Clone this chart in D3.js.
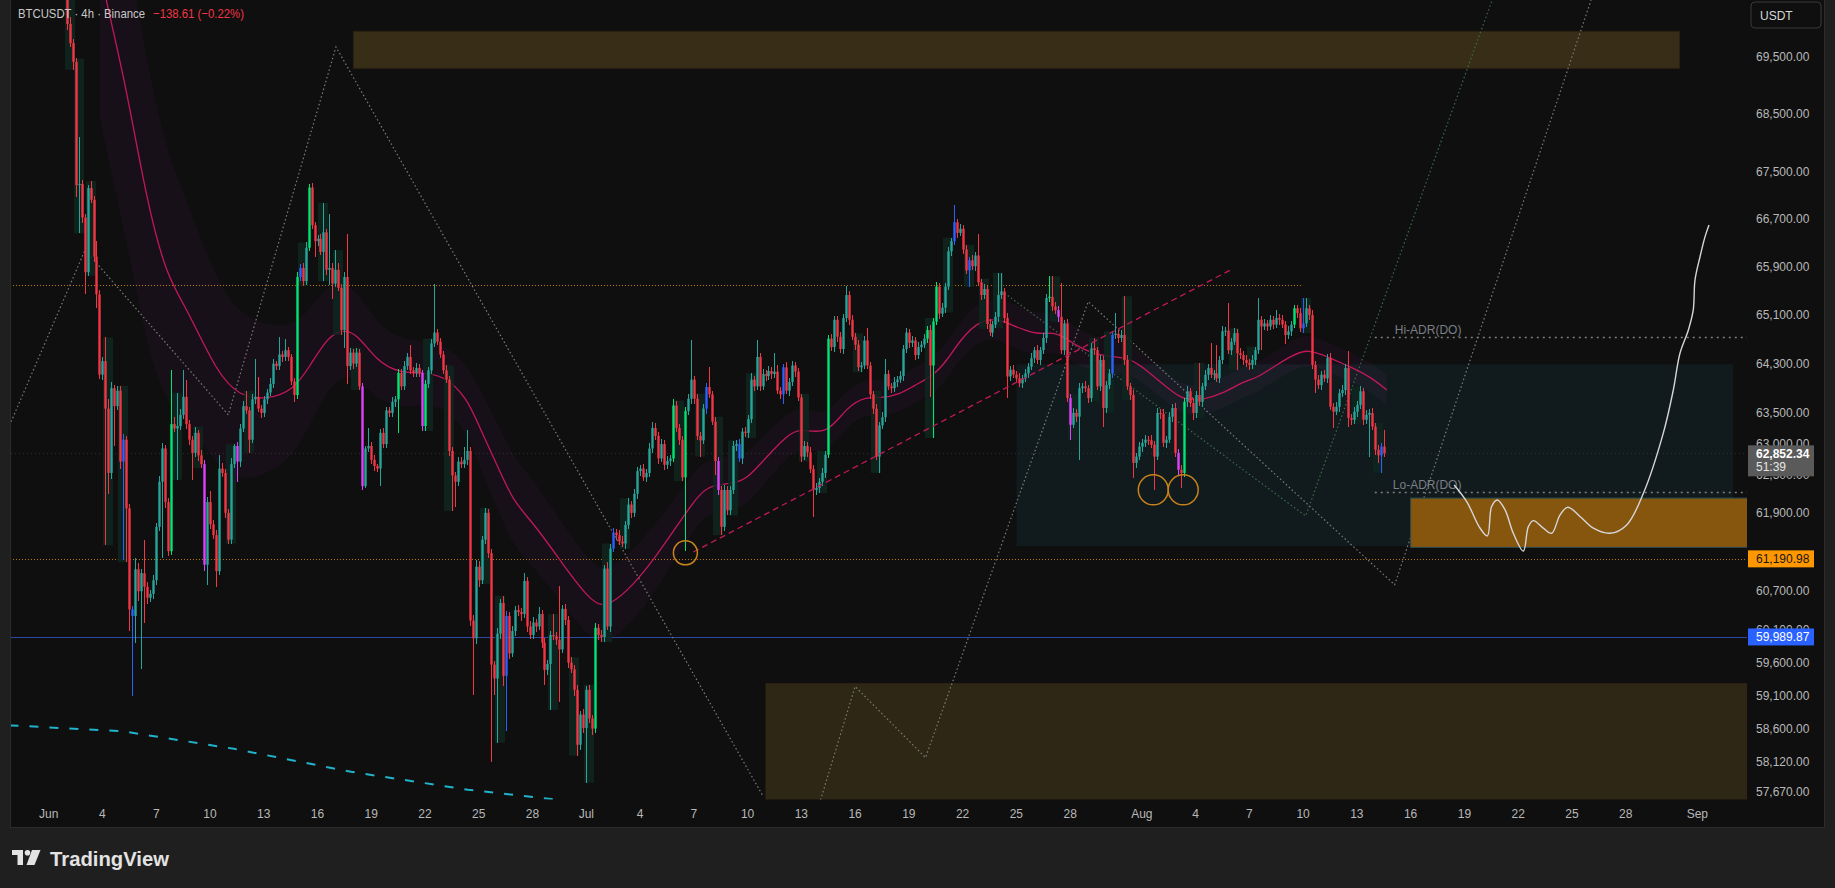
<!DOCTYPE html>
<html>
<head>
<meta charset="utf-8">
<script src="https://cdn.jsdelivr.net/npm/d3@7"></script>
<style>
  html, body { margin: 0; padding: 0; background: #1f1f1f; }
  svg { display: block; font-family: "Liberation Sans", Arial, sans-serif; }
</style>
</head>
<body>
<svg id="chart" width="1835" height="888"></svg>
<script>
// ===== data =====

// first 4h bar shown, and the open of that bar
const barStart = '2024-06-02T00:00:00Z';
const firstOpen = 71200;

// 4h closes, one row per day (Jun 2 .. Aug 14)
const closes = [
  70090, 69750, 69420, 67280, 67300, 66730,
  65810, 67230, 67030, 66070, 65440, 64120,
  64340, 63570, 62540, 63900, 63610, 63860,
  62720, 63070, 61980, 60410, 60310, 61030,
  60690, 60970, 60760, 60590, 60650, 60860,
  61690, 62400, 62930, 62080, 61310, 63320,
  63250, 63290, 63470, 63760, 63320, 63070,
  62860, 63180, 62820, 62680, 61100, 62080,
  61730, 61560, 61000, 62610, 62540, 61910,
  61490, 62680, 62970, 62720, 63250, 63610,
  63540, 63070, 63720, 63760, 63570, 63500,
  63720, 63830, 63970, 64300, 64260, 64450,
  64410, 64520, 64410, 64010, 63790, 65730,
  65880, 65660, 66220, 67240, 66600, 66330,
  66370, 66150, 66480, 65850, 65880, 65620,
  65850, 65550, 64850, 65730, 64260, 64480,
  64300, 64480, 63930, 62330, 62930, 62970,
  62750, 62650, 62610, 63180, 63000, 63540,
  63500, 63680, 63720, 64150, 63930, 64260,
  64410, 64190, 64150, 64230, 64150, 63290,
  63970, 64190, 64630, 64810, 64660, 64450,
  64190, 64040, 62890, 62500, 62400, 62720,
  62680, 62750, 62890, 60240, 59970, 61070,
  60860, 61490, 61910, 61280, 59570, 59360,
  60040, 60510, 59400, 60310, 59740, 60080,
  60400, 60370, 60340, 60850, 60150, 60020,
  60210, 60150, 60340, 59900, 59490, 59580,
  60020, 60000, 59950, 59800, 60420, 60250,
  59600, 59500, 59190, 58370, 58820, 58620,
  59190, 58760, 58610, 60130, 60020, 59990,
  61040, 60150, 61350, 61600, 61560, 61460,
  61430, 61720, 62040, 61910, 62210, 62570,
  62610, 62470, 62540, 62930, 63260, 63130,
  62770, 63000, 62670, 62730, 62770, 63620,
  63260, 63070, 62470, 63530, 63730, 64040,
  63730, 63130, 63060, 63570, 63920, 63800,
  63360, 62730, 62270, 61690, 62270, 61950,
  62270, 62970, 63000, 62770, 63200, 63180,
  63400, 64040, 63930, 64410, 63930, 64130,
  64100, 64180, 64130, 64170, 63860, 63800,
  64240, 63860, 64000, 64270, 64170, 63750,
  62800, 62970, 62870, 62600, 62270, 62300,
  62400, 62540, 62830, 64710, 64570, 65020,
  64740, 64540, 65050, 65430, 65020, 64740,
  64610, 64240, 64270, 64680, 64270, 63800,
  63570, 62800, 63300, 63430, 64130, 63930,
  63900, 64000, 64040, 64100, 64540, 64810,
  64640, 64680, 64440, 64570, 64610, 64710,
  64850, 64270, 64990, 65570, 65120, 65220,
  65570, 66160, 66330, 66650, 66470, 66540,
  66190, 65840, 66010, 65910, 66090, 65640,
  65430, 65530, 64950, 64810, 64940, 65070,
  65430, 65490, 65050, 64090, 64200, 64120,
  64060, 63980, 64060, 64140, 64250, 64390,
  64520, 64360, 64520, 64720, 65380, 65400,
  65240, 65180, 65070, 64520, 64960, 63740,
  63310, 63500, 63440, 63900, 63930, 63900,
  63740, 64550, 64520, 63930, 64360, 63580,
  63950, 64140, 64770, 64790, 64720, 64770,
  64360, 63930, 63790, 62700, 62800, 62960,
  63020, 63070, 63060, 62990, 62800, 63500,
  63490, 63020, 63070, 63440, 63580, 62860,
  62590, 62540, 63680, 63850, 63660, 63500,
  63790, 63680, 63930, 64120, 64230, 64120,
  64140, 64060, 64360, 64830, 64840, 64520,
  64660, 64800, 64470, 64440, 64360, 64310,
  64280, 64360, 64520, 65020, 64910, 64960,
  64910, 65020, 64940, 65050, 65020, 64940,
  64770, 64830, 64940, 65210, 65130, 64880,
  64960, 65210, 65100, 64280, 64040, 63950,
  64120, 64060, 64390, 63600, 63520, 63600,
  63820, 63870, 64230, 63420, 63390, 63520,
  63630, 63850, 63390, 63470, 63500, 63280,
  62910, 62820, 62960, 62852.34
];

// wick above the body of each bar (USD)
const upperWicks = [
  600, 120, 80, 60, 810, 60,
  60, 50, 120, 60, 260, 80,
  70, 390, 150, 100, 60, 80,
  80, 90, 60, 70, 60, 180,
  100, 60, 520, 80, 60, 80,
  60, 90, 80, 60, 70, 870,
  120, 540, 90, 430, 280, 60,
  60, 100, 50, 80, 60, 80,
  180, 60, 80, 210, 90, 60,
  60, 90, 30, 60, 70, 90,
  250, 60, 80, 610, 320, 60,
  60, 50, 90, 70, 40, 290,
  60, 180, 60, 50, 60, 90,
  60, 80, 90, 60, 80, 60,
  60, 80, 500, 60, 910, 80,
  330, 110, 60, 90, 720, 80,
  60, 80, 60, 60, 40, 280,
  60, 80, 40, 60, 80, 60,
  50, 80, 60, 70, 60, 80,
  60, 190, 60, 80, 60, 50,
  60, 60, 80, 810, 60, 60,
  60, 80, 60, 70, 60, 80,
  80, 200, 330, 60, 80, 100,
  80, 60, 80, 60, 60, 60,
  80, 60, 110, 80, 60, 80,
  60, 80, 60, 120, 60, 80,
  80, 60, 100, 60, 80, 60,
  60, 320, 60, 820, 60, 80,
  60, 80, 60, 80, 60, 80,
  60, 80, 60, 80, 60, 80,
  60, 100, 80, 80, 60, 80,
  80, 60, 100, 60, 80, 60,
  60, 80, 60, 80, 90, 80,
  60, 80, 60, 80, 60, 100,
  80, 60, 60, 60, 80, 640,
  60, 80, 60, 80, 60, 320,
  60, 80, 60, 60, 80, 60,
  60, 80, 60, 80, 60, 80,
  60, 100, 60, 270, 60, 80,
  60, 80, 60, 300, 100, 60,
  60, 80, 60, 80, 60, 60,
  60, 80, 60, 80, 60, 80,
  60, 80, 60, 60, 80, 60,
  60, 80, 60, 150, 60, 80,
  60, 80, 60, 80, 210, 60,
  60, 80, 60, 80, 240, 60,
  60, 80, 60, 80, 60, 80,
  60, 80, 60, 80, 60, 80,
  60, 80, 60, 80, 60, 80,
  60, 80, 60, 290, 60, 80,
  60, 80, 60, 80, 60, 360,
  60, 80, 60, 80, 60, 80,
  360, 310, 60, 80, 60, 80,
  60, 80, 60, 80, 60, 80,
  60, 80, 60, 80, 60, 340,
  340, 80, 60, 560, 60, 80,
  60, 80, 60, 80, 60, 80,
  60, 80, 170, 60, 80, 60,
  60, 80, 60, 350, 60, 80,
  640, 80, 60, 80, 60, 80,
  60, 80, 60, 80, 60, 80,
  60, 80, 60, 80, 60, 80,
  60, 80, 60, 80, 60, 80,
  60, 520, 60, 80, 60, 400,
  60, 460, 60, 80, 60, 460,
  60, 80, 60, 80, 60, 80,
  60, 80, 60, 360, 60, 80,
  60, 80, 60, 130, 60, 80,
  60, 80, 60, 50, 60, 80,
  420, 170, 60, 80, 60, 80,
  60, 80, 60, 80, 60, 80,
  60, 80, 60, 270, 60, 80,
  60, 80, 60, 80, 60, 80,
  60, 80, 60, 270
];

// wick below the body of each bar (USD)
const lowerWicks = [
  100, 60, 140, 200, 820, 100,
  370, 60, 60, 90, 225, 70,
  80, 2170, 340, 90, 640, 70,
  120, 1540, 840, 335, 1210, 410,
  150, 1180, 550, 90, 60, 80,
  80, 60, 1190, 100, 80, 60,
  60, 820, 60, 60, 80, 80,
  430, 60, 90, 60, 100, 310,
  80, 60, 240, 60, 70, 80,
  60, 60, 60, 320, 80, 60,
  60, 210, 60, 80, 60, 80,
  60, 80, 60, 60, 60, 60,
  80, 60, 60, 60, 110, 60,
  60, 80, 60, 60, 60, 260,
  80, 60, 490, 80, 260, 260,
  60, 60, 80, 290, 290, 60,
  80, 60, 60, 60, 30, 60,
  60, 80, 60, 280, 60, 60,
  60, 60, 80, 540, 60, 60,
  60, 60, 60, 60, 60, 80,
  80, 60, 60, 60, 60, 60,
  60, 60, 80, 560, 400, 60,
  60, 60, 80, 80, 860, 80,
  100, 60, 60, 80, 1450, 250,
  960, 80, 150, 830, 80, 60,
  80, 60, 100, 60, 80, 60,
  60, 80, 60, 80, 220, 80,
  690, 60, 80, 800, 60, 80,
  80, 60, 100, 160, 80, 70,
  810, 60, 100, 60, 80, 80,
  80, 60, 80, 60, 80, 60,
  60, 80, 60, 80, 60, 80,
  80, 60, 80, 60, 80, 60,
  80, 60, 80, 60, 80, 60,
  60, 80, 60, 1150, 60, 80,
  80, 60, 260, 60, 80, 60,
  60, 230, 80, 130, 60, 80,
  80, 60, 80, 60, 80, 60,
  80, 60, 80, 60, 80, 60,
  80, 60, 80, 60, 60, 80,
  150, 60, 80, 60, 80, 60,
  80, 60, 80, 60, 420, 80,
  80, 60, 80, 60, 60, 80,
  80, 60, 80, 60, 80, 60,
  80, 60, 80, 60, 60, 80,
  80, 60, 260, 60, 80, 60,
  80, 60, 80, 60, 80, 60,
  80, 60, 80, 60, 80, 60,
  80, 510, 1170, 60, 80, 60,
  80, 60, 80, 60, 80, 60,
  80, 60, 270, 60, 80, 60,
  80, 60, 80, 60, 80, 60,
  80, 60, 80, 350, 80, 60,
  80, 60, 80, 60, 80, 60,
  80, 60, 80, 60, 80, 60,
  80, 60, 80, 60, 80, 60,
  240, 60, 80, 690, 80, 60,
  80, 60, 80, 60, 80, 300,
  80, 60, 80, 60, 80, 60,
  80, 60, 80, 240, 80, 60,
  80, 60, 80, 60, 530, 60,
  80, 60, 80, 60, 80, 60,
  80, 240, 60, 80, 60, 110,
  80, 60, 80, 60, 80, 60,
  80, 60, 80, 60, 80, 60,
  80, 60, 270, 60, 80, 60,
  80, 60, 80, 60, 385, 60,
  80, 60, 80, 60, 80, 60,
  150, 60, 80, 60, 80, 60,
  80, 60, 80, 60, 215, 60,
  80, 60, 80, 60, 260, 60,
  80, 60, 80, 140, 80, 60,
  80, 60, 80, 60, 670, 60,
  80, 120, 280, 60
];

// bars the indicator paints differently (bar number from barStart)
const brightBars = [35, 77, 81, 111, 120, 177, 203, 207, 255, 288, 290, 291, 329, 374, 411];
const blueBars = [19, 22, 78, 147, 183, 214, 225, 240, 297, 302, 350, 414, 440];
const magentaBars = [46, 57, 99, 119, 218, 332, 336, 372];
// bars with the dark green highlight column behind them
const shadeBars = [1, 4, 8, 14, 19, 37, 44, 55, 61, 79, 86, 91, 97, 121, 128, 140, 145, 163, 170, 175,
  181, 187, 205, 212, 218, 223, 229, 247, 253, 265, 271, 289, 295, 302, 307, 312, 331, 337, 344, 349,
  355, 379, 391, 397, 415, 432, 439];

// moving average + its band (days after Jun 1, price, half width)
const maDays = [2.86, 3.20, 4.35, 5.47, 6.58, 7.70, 9.38, 10.68, 12.17, 13.65, 14.58, 15.51, 16.26, 17.19,
  18.30, 19.60, 20.72, 22.02, 23.33, 24.07, 25.00, 25.93, 27.04, 28.53, 30.39, 31.32, 32.62, 33.74, 34.86,
  35.97, 36.72, 38.20, 38.95, 40.07, 41.18, 41.93, 43.42, 44.53, 45.65, 46.39, 47.51, 48.25, 49.36, 50.11,
  50.85, 51.97, 53.09, 53.83, 54.39, 55.32, 56.25, 57.37, 58.67, 60.34, 61.45, 62.57, 63.31, 64.43, 65.55,
  66.66, 67.41, 68.53, 69.27, 70.29, 71.50, 72.62, 73.73, 74.67];
const maValues = [71060, 70518, 68943, 67011, 65734, 65218, 64150, 63760, 63717, 63863, 64263, 64705, 64853,
  64810, 64335, 64150, 64150, 64116, 63755, 63250, 62681, 62083, 61754, 61171, 60467, 60467, 60785, 61171,
  61622, 62077, 62340, 62373, 62438, 62800, 63132, 63264, 63132, 63600, 63768, 63733, 63802, 63936, 64104,
  64343, 64682, 65025, 65025, 64922, 64858, 64775, 64830, 64580, 64415, 64415, 64144, 63873, 63711, 63711,
  63818, 64008, 64063, 64280, 64415, 64552, 64389, 64252, 64089, 63873];
const maBand = [2600, 2600, 2600, 2400, 2100, 1800, 1500, 1350, 1200, 1050, 950, 850, 780, 700, 620, 560,
  520, 500, 540, 620, 680, 700, 680, 620, 580, 560, 540, 520, 480, 450, 430, 420, 400, 380, 350, 330, 310,
  300, 280, 280, 280, 280, 290, 300, 300, 320, 340, 360, 360, 340, 320, 300, 280, 260, 250, 240, 240, 240,
  250, 250, 240, 240, 250, 250, 240, 240, 240, 240];

// drawn zones: [from, to, top price, bottom price]
const supplyZone = ['2024-06-18', '2024-08-31', 69960, 69306];
const demandZone = ['2024-07-11', '2024-09-06', 59290, 57400];
const rangeBox = ['2024-07-25', '2024-09-03', 64290, 61390];
const targetZone = ['2024-08-16', '2024-09-06', 62142, 61370];

// horizontal levels
const resistanceLevel = 65600;      // dotted, ends Aug 10
const supportLevel = 61190.98;
const blueLevel = 59989.87;
const lastPrice = 62852.34;
const countdown = '51:39';
const hiAdr = 64733;
const loAdr = 62245;
const adrStartDay = 74;

// zigzag / trend drawings (days after Jun 1, price)
const zigA_days = [-2.10, 2.03, 10.02, 16.03, 39.87];
const zigA_prices = [63357, 66183, 63470, 69683, 57611];
const zigB_days = [43.07, 45.00, 48.93, 58.01, 75.11, 86.07];
const zigB_prices = [57557, 59240, 58180, 65320, 60790, 70518];
const zigC_days = [53.16, 70.14, 80.55];
const zigC_prices = [65500, 61861, 70518];
const cyanDays = [-2.19, 4.15, 10.34, 16.87, 23.40, 28.64];
const cyanPrices = [58659, 58570, 58310, 57971, 57707, 57554];
const trendDays = [35.97, 66.02];
const trendPrices = [61297, 65859];
const circleDays = [35.53, 61.64, 63.31];
const circlePrices = [61284, 62272, 62272];

// projected path
const projDays = [78.43, 79.13, 79.87, 80.28, 80.52, 80.84, 81.27, 81.73, 82.29, 82.57, 82.85, 83.40, 83.87,
  84.34, 84.77, 85.45, 86.20, 87.13, 88.06, 88.99, 90.10, 90.66, 91.03, 91.50, 91.77, 91.87, 92.15, 92.43, 92.65];
const projPrices = [62350, 62087, 61672, 61548, 62009, 62113, 61957, 61590, 61314, 61694, 61787, 61669, 61590,
  61879, 61999, 61853, 61669, 61590, 61721, 62219, 63176, 63873, 64470, 64852, 65178, 65681, 66069, 66407, 66605];

// axes
const priceTicks = [69500, 68500, 67500, 66700, 65900, 65100, 64300, 63500, 63000, 62500, 61900, 61200,
  60700, 60100, 59600, 59100, 58600, 58120, 57670];
const timeTickDates = ['2024-06-01', '2024-06-04', '2024-06-07', '2024-06-10', '2024-06-13', '2024-06-16',
  '2024-06-19', '2024-06-22', '2024-06-25', '2024-06-28', '2024-07-01', '2024-07-04', '2024-07-07',
  '2024-07-10', '2024-07-13', '2024-07-16', '2024-07-19', '2024-07-22', '2024-07-25', '2024-07-28',
  '2024-08-01', '2024-08-04', '2024-08-07', '2024-08-10', '2024-08-13', '2024-08-16', '2024-08-19',
  '2024-08-22', '2024-08-25', '2024-08-28', '2024-09-01'];
const timeTickLabels = ['Jun', '4', '7', '10', '13', '16', '19', '22', '25', '28', 'Jul', '4', '7', '10', '13',
  '16', '19', '22', '25', '28', 'Aug', '4', '7', '10', '13', '16', '19', '22', '25', '28', 'Sep'];

// ===== drawing =====
const W = 1835, H = 888;
const plot = { left: 10, right: 1747, top: 0, bottom: 799.5 };
const day0 = Date.UTC(2024, 5, 1);
const dayToDate = d => new Date(day0 + d * 864e5);
const isoDate = s => new Date(s + (s.length === 10 ? 'T00:00:00Z' : ''));

const x = d3.scaleUtc()
  .domain([dayToDate(-2.1596), dayToDate(94.771)])
  .range([plot.left, plot.right]);
const y = d3.scaleLog()
  .domain([57670, 69500])
  .range([792.3, 57.3]);

const svg = d3.select('#chart');

// outer frame and chart pane
svg.append('rect').attr('width', W).attr('height', H).attr('fill', '#1f1f1f');
svg.append('rect').attr('x', 10).attr('y', 0).attr('width', 1814).attr('height', 827).attr('fill', '#0f0f0f');
svg.append('line').attr('x1', 10.5).attr('x2', 10.5).attr('y1', 0).attr('y2', 827.5)
  .attr('stroke', '#2c2c2c');
svg.append('line').attr('x1', 1824.5).attr('x2', 1824.5).attr('y1', 0).attr('y2', 827.5)
  .attr('stroke', '#2c2c2c');
svg.append('line').attr('x1', 10).attr('x2', 1825).attr('y1', 827.5).attr('y2', 827.5)
  .attr('stroke', '#2c2c2c');

svg.append('defs').append('clipPath').attr('id', 'plotClip')
  .append('rect')
  .attr('x', plot.left + 1).attr('y', plot.top)
  .attr('width', plot.right - plot.left - 1).attr('height', plot.bottom - plot.top);

const g = svg.append('g').attr('clip-path', 'url(#plotClip)');

// zones
function zone(z, fill, stroke) {
  const x0 = x(isoDate(z[0])), x1 = x(isoDate(z[1]));
  g.append('rect')
    .attr('x', x0).attr('y', y(z[2]))
    .attr('width', x1 - x0).attr('height', y(z[3]) - y(z[2]))
    .attr('fill', fill)
    .attr('stroke', stroke || 'none');
}
zone(supplyZone, '#382e18', '#2a2313');
zone(demandZone, '#2f2716');
zone(rangeBox, '#111b1d');

// moving average band
const maPts = maDays.map((d, i) => ({ t: dayToDate(d), v: maValues[i], b: maBand[i] }));
g.append('path')
  .datum(maPts)
  .attr('d', d3.area()
    .x(d => x(d.t))
    .y0(d => y(d.v - d.b))
    .y1(d => y(d.v + d.b))
    .curve(d3.curveBasis))
  .attr('fill', '#9c27b0')
  .attr('fill-opacity', 0.07);

// horizontal levels
function hLine(price, fromDay, toDay, color, dash, width, opacity) {
  g.append('line')
    .attr('x1', x(dayToDate(fromDay))).attr('x2', x(dayToDate(toDay)))
    .attr('y1', Math.round(y(price)) + 0.5).attr('y2', Math.round(y(price)) + 0.5)
    .attr('stroke', color)
    .attr('stroke-width', width || 1)
    .attr('stroke-dasharray', dash || null)
    .attr('opacity', opacity || 1);
}
hLine(blueLevel, -3, 96, '#2f4fb4', null, 1, 0.9);
hLine(lastPrice, -3, 96, '#3a3a3a', '1,3', 1, 0.7);
hLine(resistanceLevel, -3, 70, '#d98a0c', '1,2', 1, 0.9);
hLine(supportLevel, -3, 96, '#d98a0c', '1,2', 1, 0.9);

// dotted zigzags
function pathLine(days, prices, color, dash, width, curve) {
  const pts = days.map((d, i) => ({ t: dayToDate(d), p: prices[i] }));
  return g.append('path')
    .datum(pts)
    .attr('d', d3.line().x(d => x(d.t)).y(d => y(d.p)).curve(curve || d3.curveLinear))
    .attr('fill', 'none')
    .attr('stroke', color)
    .attr('stroke-width', width)
    .attr('stroke-dasharray', dash || null);
}
pathLine(zigA_days, zigA_prices, '#7c7c7c', '1.5,2.5', 1.2);
pathLine(zigB_days, zigB_prices, '#7c7c7c', '1.5,2.5', 1.2);
pathLine(zigC_days, zigC_prices, '#3d6b48', '1.5,2.5', 1.2);
pathLine(cyanDays, cyanPrices, '#1fb4cc', '9,11', 2);

// moving average line
g.append('path')
  .datum(maPts)
  .attr('d', d3.line().x(d => x(d.t)).y(d => y(d.v)).curve(d3.curveBasis))
  .attr('fill', 'none')
  .attr('stroke', '#c2185b')
  .attr('stroke-width', 1.3);

// target zone sits above the range box
zone(targetZone, '#86560f', '#2b4e52');

// candles
const startMs = isoDate(barStart).getTime();
const bars = closes.map((c, k) => {
  const o = k === 0 ? firstOpen : closes[k - 1];
  return {
    k, o, c,
    t: new Date(startMs + k * 4 * 3600e3),
    h: Math.max(o, c) + upperWicks[k],
    l: Math.min(o, c) - lowerWicks[k]
  };
});

// dark green highlight columns (span the bar and its neighbours)
g.append('g').selectAll('rect.shade')
  .data(shadeBars.map(k => bars.slice(Math.max(0, k - 1), k + 2)))
  .enter().append('rect')
  .attr('class', 'shade')
  .attr('x', d => Math.round(x(d[0].t)) - 2)
  .attr('width', d => Math.round(x(d[d.length - 1].t)) - Math.round(x(d[0].t)) + 4)
  .attr('y', d => y(d3.max(d, b => b.h)))
  .attr('height', d => y(d3.min(d, b => b.l)) - y(d3.max(d, b => b.h)))
  .attr('fill', '#0f261f')
  .attr('opacity', 0.85);

function barColor(d) {
  if (blueBars.includes(d.k)) return '#2962ff';
  if (magentaBars.includes(d.k)) return '#e040fb';
  if (d.c >= d.o) return brightBars.includes(d.k) ? '#00e676' : '#26a69a';
  return '#f23645';
}
const candleG = g.append('g');
const candle = candleG.selectAll('g.bar').data(bars).enter().append('g').attr('class', 'bar');
// wick: one crisp pixel column
candle.append('rect')
  .attr('x', d => Math.round(x(d.t)))
  .attr('width', 1)
  .attr('y', d => y(d.h))
  .attr('height', d => Math.max(1, y(d.l) - y(d.h)))
  .attr('shape-rendering', 'crispEdges')
  .attr('fill', barColor);
// body: a little wider than two pixels, centred on the wick
candle.append('rect')
  .attr('x', d => Math.round(x(d.t)) + 0.5 - 1.2)
  .attr('width', 2.4)
  .attr('y', d => y(Math.max(d.o, d.c)))
  .attr('height', d => Math.max(1, Math.abs(y(d.o) - y(d.c))))
  .attr('fill', barColor);

// pink dashed trendline
pathLine(trendDays, trendPrices, '#c2185b', '6,4', 1.3);

// circles on the swing lows
const circleR = [12, 15, 15];
g.selectAll('circle.mark')
  .data(circleDays.map((d, i) => ({ t: dayToDate(d), p: circlePrices[i], r: circleR[i] })))
  .enter().append('circle')
  .attr('class', 'mark')
  .attr('cx', d => x(d.t)).attr('cy', d => y(d.p)).attr('r', d => d.r)
  .attr('fill', 'none')
  .attr('stroke', '#c8841a')
  .attr('stroke-width', 1.5);

// ADR levels
hLine(hiAdr, adrStartDay, 96, '#8a8a8a', '2,4', 1.5, 0.9);
hLine(loAdr, adrStartDay, 96, '#8a8a8a', '2,4', 1.5, 0.9);
g.append('text').attr('x', x(dayToDate(adrStartDay)) + 20).attr('y', y(hiAdr) - 3)
  .attr('font-size', 12).attr('fill', '#7b7e86').text('Hi-ADR(DO)');
g.append('text').attr('x', x(dayToDate(adrStartDay)) + 18).attr('y', y(loAdr) - 3)
  .attr('font-size', 12).attr('fill', '#7b7e86').text('Lo-ADR(DO)');

// projected path
pathLine(projDays, projPrices, '#d6d6d6', null, 1.4, d3.curveCatmullRom);

// ===== price axis =====
const axisG = svg.append('g');
axisG.selectAll('text.ptick')
  .data(priceTicks)
  .enter().append('text')
  .attr('class', 'ptick')
  .attr('x', 1756)
  .attr('y', d => y(d) + 4)
  .attr('font-size', 12)
  .attr('fill', '#b8b8b8')
  .text(d => d3.format(',.2f')(d));

function priceTag(price, fill, color, bold, extra) {
  const yc = y(price);
  const h = extra ? 31 : 17;
  const top = extra ? yc - 8 : yc - 8.5;
  axisG.append('rect')
    .attr('x', 1748).attr('y', top).attr('width', 66).attr('height', h)
    .attr('fill', fill);
  axisG.append('text')
    .attr('x', 1756).attr('y', top + 12.5)
    .attr('font-size', 12).attr('font-weight', bold ? 'bold' : 'normal')
    .attr('fill', color)
    .text(d3.format(',.2f')(price));
  if (extra) {
    axisG.append('text')
      .attr('x', 1756).attr('y', top + 26)
      .attr('font-size', 12).attr('fill', '#e6e6e6')
      .text(extra);
  }
}
priceTag(lastPrice, '#5a5a5a', '#ffffff', true, countdown);
priceTag(supportLevel, '#ff9800', '#161616', false);
priceTag(blueLevel, '#2962ff', '#ffffff', false);

// currency button
axisG.append('rect')
  .attr('x', 1751).attr('y', 2).attr('width', 70).attr('height', 26).attr('rx', 4)
  .attr('fill', '#0f0f0f').attr('stroke', '#3a3a3a');
axisG.append('text').attr('x', 1760).attr('y', 19.5)
  .attr('font-size', 12).attr('fill', '#d8d8d8').text('USDT');

// ===== time axis =====
svg.append('g').selectAll('text.ttick')
  .data(timeTickDates.map((d, i) => ({ t: isoDate(d), label: timeTickLabels[i] })))
  .enter().append('text')
  .attr('class', 'ttick')
  .attr('x', d => x(d.t))
  .attr('y', 818)
  .attr('text-anchor', 'middle')
  .attr('font-size', 12)
  .attr('fill', '#b8b8b8')
  .text(d => d.label);

// ===== header =====
svg.append('text').attr('x', 18).attr('y', 17.5).attr('font-size', 13)
  .attr('fill', '#c8c8c8')
  .attr('textLength', 127).attr('lengthAdjust', 'spacingAndGlyphs')
  .text('BTCUSDT · 4h · Binance');
svg.append('text').attr('x', 153).attr('y', 17.5).attr('font-size', 13)
  .attr('fill', '#f23645')
  .attr('textLength', 91).attr('lengthAdjust', 'spacingAndGlyphs')
  .text('−138.61 (−0.22%)');

// ===== TradingView logo =====
const logo = svg.append('g').attr('fill', '#e3e3e3');
logo.append('path').attr('d', 'M12,850 H23 V865 H17.5 V855 H12 Z');
logo.append('circle').attr('cx', 27.5).attr('cy', 852.8).attr('r', 2.8);
logo.append('path').attr('d', 'M32,850 H40.5 L34.5,865 H26.5 Z');
svg.append('text').attr('x', 50).attr('y', 866)
  .attr('font-size', 20).attr('font-weight', 'bold').attr('fill', '#e3e3e3')
  .attr('textLength', 119).attr('lengthAdjust', 'spacingAndGlyphs')
  .text('TradingView');
</script>
</body>
</html>
